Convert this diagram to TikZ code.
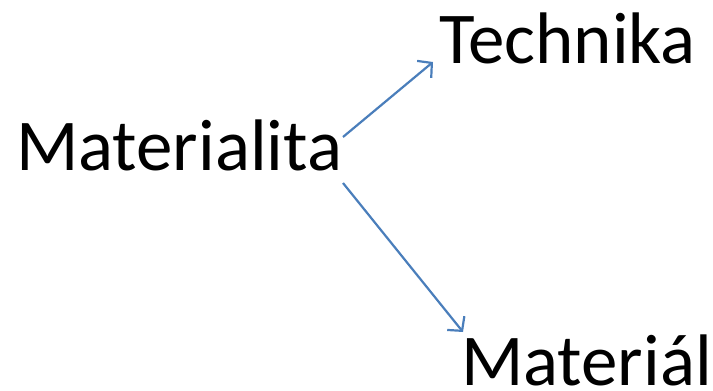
\documentclass[tikz,border=0pt]{standalone}
\usepackage{fontspec}
\setmainfont{Carlito}
\usetikzlibrary{arrows.meta}
\definecolor{conn}{HTML}{4A7EBB}
\tikzset{
  word/.style={anchor=base west, inner sep=0pt, font=\fontsize{73}{80}\selectfont},
  conn/.style={draw=conn, line width=2.2pt, -{Straight Barb[length=10pt,width=22pt,line width=2.2pt]}}
}
\begin{document}
\begin{tikzpicture}[x=1pt,y=-1pt]
\useasboundingbox (0,0) rectangle (713,391);
\node[word] (mat) at (16,170) {Materialita};
\node[word] (tech) at (439,63) {Technika};
\node[word] (matl) at (461,385) {Materiál};
\coordinate (s1) at (343,137);
\coordinate (e1) at (433,62);
\coordinate (s2) at (343,183);
\coordinate (e2) at (463,332);
\draw[conn] (s1) -- (e1);
\draw[conn] (s2) -- (e2);
\end{tikzpicture}
\end{document}
